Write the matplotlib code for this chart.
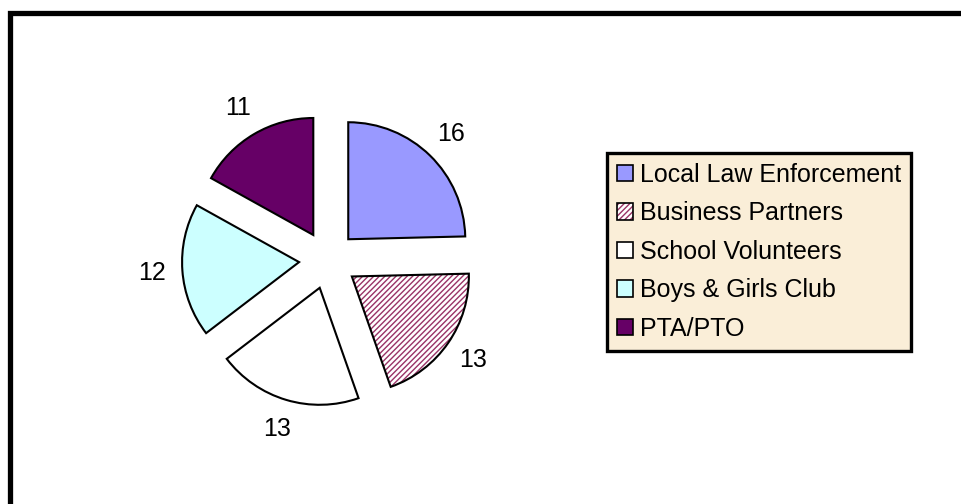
import matplotlib.pyplot as plt
from matplotlib.colors import to_rgba
from matplotlib.patches import Rectangle, Wedge

plt.rcParams['font.family'] = ['Liberation Sans', 'DejaVu Sans']
plt.rcParams['hatch.linewidth'] = 1.0

# Data
categories = ['Local Law Enforcement', 'Business Partners', 'School Volunteers',
              'Boys & Girls Club', 'PTA/PTO']
values = [16, 13, 13, 12, 11]
colors = ['#9999FF', '#FFFFFF', '#FFFFFF', '#CCFFFF', '#660066']

fig = plt.figure(figsize=(9.61, 5.04), dpi=100)
ax = fig.add_axes([0, 0, 1, 1])

# explode is in data units here (pixels)
wedges, texts = ax.pie(values, labels=[str(v) for v in values], colors=colors,
                       startangle=90, counterclock=False, radius=117,
                       center=(328, 244), explode=[29] * len(values),
                       labeldistance=1.26, frame=True,
                       wedgeprops=dict(edgecolor='black', linewidth=1.5),
                       textprops=dict(fontsize=18))
for t in texts:
    t.set_horizontalalignment('center')
ax.set_xlim(0, 961)
ax.set_ylim(0, 504)
ax.set_aspect('equal')
ax.axis('off')

# hatched slice: stripes in plum, black outline on top
hw = wedges[1]
hw.set_edgecolor('#993366')
hw.set_hatch('//////')
hw.set_linewidth(0)
outline = Wedge(hw.center, hw.r, hw.theta1, hw.theta2, fill=False,
                edgecolor='black', linewidth=1.5)
ax.add_patch(outline)

leg = fig.legend(wedges, categories, loc='upper left',
                 bbox_to_anchor=(607 / 961, 1 - 153 / 504), borderaxespad=0,
                 fontsize=18, frameon=True, fancybox=False,
                 labelspacing=0.58, handlelength=0.64, handleheight=0.64,
                 handletextpad=0.28, borderpad=0.4)
frame = leg.get_frame()
frame.set_facecolor('#FAEED8')
frame.set_edgecolor('black')
frame.set_linewidth(2.4)
frame.set_alpha(1)
for h in leg.legend_handles:
    h.set_linewidth(1.2)
    h.set_edgecolor('black')
hh = leg.legend_handles[1]
hh.set_hatch('//////')
hh._hatch_color = to_rgba('#993366')  # black border, plum stripes

# chart area border (right and bottom run off the picture)
fig.add_artist(Rectangle((10 / 961, -0.2), 2, (504 - 12.7) / 504 + 0.2,
                         transform=fig.transFigure, fill=False,
                         edgecolor='black', linewidth=3.8))

fig.savefig('out.png', dpi=100)
